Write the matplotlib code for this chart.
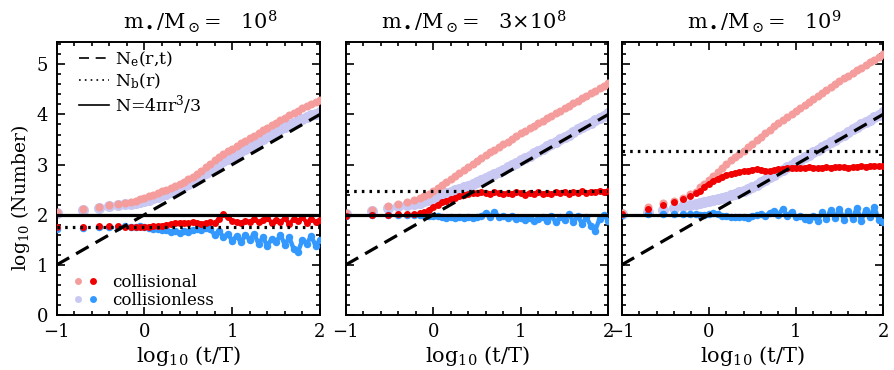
import matplotlib
matplotlib.use("Agg")
import matplotlib.pyplot as plt
from matplotlib.lines import Line2D
from matplotlib.legend_handler import HandlerTuple
from matplotlib.ticker import MultipleLocator

plt.rcParams['font.family'] = ['DejaVu Serif']
plt.rcParams['mathtext.fontset'] = 'custom'
plt.rcParams['mathtext.rm'] = 'DejaVu Serif'
plt.rcParams['mathtext.it'] = 'DejaVu Serif'
plt.rcParams['mathtext.bf'] = 'DejaVu Serif:bold'

# sample times, log10(t/T)
logt = [-1.0, -0.70, -0.52, -0.40, -0.30, -0.22, -0.15, -0.10, -0.05,
        0.00, 0.05, 0.10, 0.15, 0.20, 0.25, 0.30, 0.35, 0.40, 0.45,
        0.50, 0.55, 0.60, 0.65, 0.70, 0.75, 0.80, 0.85, 0.90, 0.95,
        1.00, 1.05, 1.10, 1.15, 1.20, 1.25, 1.30, 1.35, 1.40, 1.45,
        1.50, 1.55, 1.60, 1.65, 1.70, 1.75, 1.80, 1.85, 1.90, 1.95, 2.00]

titles = [r'm$_\bullet$/M$_\odot$=   10$^8$', r'm$_\bullet$/M$_\odot$=   3$\times$10$^8$',
          r'm$_\bullet$/M$_\odot$=   10$^9$']

# horizontal reference levels
n_sphere = 2.0
n_b = [1.75, 2.47, 3.27]
# N_e(r,t) dashed line end points
ne_x = [-1.0, 2.0]
ne_y = [1.0, 4.0]

# panel 1: m = 1e8
coll_all_1 = [2.06, 2.11, 2.16, 2.19, 2.22, 2.24, 2.26, 2.28, 2.31,
              2.34, 2.37, 2.40, 2.43, 2.47, 2.50, 2.54, 2.58, 2.62, 2.66,
              2.71, 2.76, 2.82, 2.88, 2.95, 3.02, 3.09, 3.15, 3.21, 3.27,
              3.32, 3.37, 3.43, 3.48, 3.53, 3.58, 3.63, 3.68, 3.73, 3.78,
              3.83, 3.88, 3.93, 3.98, 4.03, 4.07, 4.12, 4.16, 4.20, 4.24, 4.28]
less_all_1 = [2.04, 2.09, 2.14, 2.17, 2.19, 2.21, 2.22, 2.24, 2.26,
              2.28, 2.30, 2.33, 2.36, 2.39, 2.42, 2.45, 2.49, 2.53, 2.57,
              2.61, 2.66, 2.71, 2.77, 2.83, 2.89, 2.95, 3.01, 3.07, 3.12,
              3.17, 3.22, 3.27, 3.32, 3.37, 3.42, 3.47, 3.52, 3.57, 3.61,
              3.66, 3.70, 3.75, 3.79, 3.83, 3.87, 3.91, 3.95, 3.98, 4.01, 4.04]
coll_in_1 = [1.75, 1.76, 1.78, 1.78, 1.77, 1.76, 1.76, 1.76, 1.75,
             1.76, 1.76, 1.77, 1.77, 1.78, 1.80, 1.81, 1.83, 1.84, 1.84,
             1.83, 1.85, 1.84, 1.82, 1.83, 1.85, 1.83, 1.92, 2.01, 1.95,
             1.88, 1.86, 1.84, 1.88, 1.86, 1.91, 1.85, 1.89, 1.94, 1.84,
             1.90, 1.86, 1.93, 1.82, 1.91, 1.87, 1.95, 1.84, 1.92, 1.86, 1.90]
less_in_1 = [1.72, 1.74, 1.75, 1.76, 1.76, 1.77, 1.76, 1.76, 1.77,
             1.76, 1.74, 1.72, 1.71, 1.69, 1.70, 1.66, 1.68, 1.64, 1.67,
             1.65, 1.70, 1.72, 1.70, 1.73, 1.71, 1.60, 1.68, 1.55, 1.62,
             1.48, 1.58, 1.45, 1.60, 1.50, 1.62, 1.42, 1.55, 1.38, 1.52,
             1.45, 1.60, 1.40, 1.55, 1.32, 1.26, 1.50, 1.42, 1.58, 1.38, 1.50]

# panel 2: m = 3e8
coll_all_2 = [2.04, 2.10, 2.17, 2.21, 2.25, 2.29, 2.33, 2.37, 2.42,
              2.48, 2.54, 2.60, 2.66, 2.72, 2.78, 2.84, 2.90, 2.96, 3.02,
              3.08, 3.14, 3.19, 3.25, 3.30, 3.36, 3.41, 3.46, 3.52, 3.57,
              3.62, 3.67, 3.72, 3.77, 3.82, 3.87, 3.92, 3.97, 4.02, 4.07,
              4.12, 4.17, 4.22, 4.27, 4.32, 4.37, 4.42, 4.47, 4.52, 4.57, 4.62]
less_all_2 = [2.02, 2.08, 2.13, 2.17, 2.20, 2.22, 2.24, 2.27, 2.30,
              2.34, 2.37, 2.40, 2.43, 2.46, 2.49, 2.52, 2.55, 2.58, 2.62,
              2.65, 2.69, 2.73, 2.77, 2.81, 2.86, 2.90, 2.95, 3.00, 3.04,
              3.09, 3.14, 3.18, 3.23, 3.28, 3.32, 3.37, 3.42, 3.46, 3.51,
              3.56, 3.60, 3.65, 3.70, 3.74, 3.79, 3.83, 3.88, 3.93, 3.97, 4.02]
coll_in_2 = [1.98, 2.00, 2.00, 2.01, 2.01, 2.02, 2.04, 2.06, 2.10,
             2.15, 2.20, 2.25, 2.28, 2.31, 2.34, 2.37, 2.39, 2.41, 2.43,
             2.44, 2.45, 2.44, 2.42, 2.45, 2.43, 2.41, 2.44, 2.42, 2.46,
             2.43, 2.40, 2.44, 2.42, 2.45, 2.42, 2.44, 2.41, 2.45, 2.43,
             2.46, 2.42, 2.45, 2.44, 2.47, 2.44, 2.46, 2.45, 2.48, 2.46, 2.48]
less_in_2 = [1.98, 2.00, 1.99, 2.00, 1.99, 2.00, 1.99, 1.99, 1.98,
             1.98, 1.97, 1.96, 1.94, 1.96, 1.93, 1.95, 1.94, 1.96, 1.93,
             1.95, 1.97, 2.04, 1.96, 2.06, 1.95, 1.97, 1.93, 1.98, 1.92,
             1.94, 1.90, 1.93, 1.88, 1.92, 1.95, 1.88, 1.98, 1.85, 1.95,
             1.90, 2.02, 1.86, 1.97, 1.82, 1.95, 1.78, 1.68, 1.92, 2.00, 1.88]

# panel 3: m = 1e9
coll_all_3 = [2.04, 2.16, 2.23, 2.28, 2.34, 2.41, 2.46, 2.55, 2.62,
              2.70, 2.78, 2.86, 2.94, 3.02, 3.09, 3.16, 3.22, 3.28, 3.35,
              3.42, 3.49, 3.56, 3.63, 3.69, 3.76, 3.83, 3.89, 3.95, 4.01,
              4.07, 4.13, 4.19, 4.25, 4.31, 4.37, 4.43, 4.49, 4.55, 4.60,
              4.66, 4.72, 4.77, 4.83, 4.88, 4.93, 4.99, 5.04, 5.09, 5.15, 5.20]
less_all_3 = [2.02, 2.06, 2.10, 2.14, 2.18, 2.20, 2.22, 2.24, 2.26,
              2.28, 2.30, 2.32, 2.34, 2.36, 2.39, 2.42, 2.45, 2.48, 2.52,
              2.56, 2.60, 2.65, 2.70, 2.75, 2.80, 2.85, 2.90, 2.95, 3.00,
              3.05, 3.10, 3.15, 3.20, 3.25, 3.30, 3.35, 3.40, 3.45, 3.50,
              3.55, 3.60, 3.65, 3.70, 3.75, 3.80, 3.85, 3.89, 3.94, 3.99, 4.04]
coll_in_3 = [2.02, 2.12, 2.19, 2.25, 2.31, 2.37, 2.43, 2.48, 2.56,
             2.62, 2.67, 2.72, 2.76, 2.79, 2.81, 2.83, 2.85, 2.87, 2.88,
             2.90, 2.91, 2.90, 2.88, 2.87, 2.89, 2.91, 2.92, 2.93, 2.94,
             2.94, 2.93, 2.94, 2.95, 2.94, 2.93, 2.94, 2.95, 2.94, 2.95,
             2.96, 2.95, 2.94, 2.95, 2.96, 2.97, 2.96, 2.97, 2.98, 2.97, 2.98]
less_in_3 = [2.00, 2.02, 2.02, 2.02, 2.02, 2.02, 2.01, 2.00, 2.00,
             2.01, 2.03, 2.02, 1.98, 1.97, 1.95, 1.96, 1.95, 1.96, 1.94,
             1.97, 1.99, 2.02, 1.97, 2.04, 2.08, 2.00, 2.12, 1.98, 2.06,
             1.95, 1.98, 1.92, 1.90, 1.97, 1.88, 2.05, 1.92, 2.10, 1.94,
             2.12, 1.90, 2.08, 1.92, 2.14, 1.88, 2.10, 1.95, 2.15, 1.90, 1.85]

coll_all = [coll_all_1, coll_all_2, coll_all_3]
less_all = [less_all_1, less_all_2, less_all_3]
coll_in = [coll_in_1, coll_in_2, coll_in_3]
less_in = [less_in_1, less_in_2, less_in_3]

PINK = '#f59c9c'
LAV = '#c8c8f2'
RED = '#f00000'
BLUE = '#3399ff'

fig = plt.figure(figsize=(8.94, 3.70), dpi=100)
lefts = [0.0634, 0.3867, 0.6954]
widths = [0.2945, 0.2937, 0.2923]
k0 = 8  # from here on the samples are dense enough to join

for i in range(3):
    ax = fig.add_axes([lefts[i], 0.1486, widths[i], 0.7386])
    ax.plot(logt, less_all[i], 'o', color=LAV, ms=8.0, mec='none', zorder=2)
    ax.plot(logt, coll_all[i], 'o', color=PINK, ms=5.8, mec='none', zorder=3)
    ax.plot(logt, less_in[i], 'o', color=BLUE, ms=5.4, mec='none', zorder=4)
    ax.plot(logt[k0:], less_in[i][k0:], '-', color=BLUE, lw=3.2, zorder=4)
    ax.plot(logt, coll_in[i], 'o', color=RED, ms=5.0, mec='none', zorder=5)
    ax.plot(logt[k0:], coll_in[i][k0:], '-', color=RED, lw=3.0, zorder=5)
    ax.plot(ne_x, ne_y, color='k', lw=2.3, ls=(0, (4.5, 2.5)), zorder=6)
    ax.axhline(n_b[i], color='k', lw=2.3, ls=(0, (0.8, 1.6)), zorder=6)
    ax.axhline(n_sphere, color='k', lw=2.3, zorder=6)

    ax.set_xlim(-1, 2)
    ax.set_ylim(0, 5.45)
    ax.xaxis.set_major_locator(MultipleLocator(1))
    ax.xaxis.set_minor_locator(MultipleLocator(0.2))
    ax.yaxis.set_major_locator(MultipleLocator(1))
    ax.yaxis.set_minor_locator(MultipleLocator(0.2))
    ax.tick_params(which='both', direction='in', top=True, right=True,
                   width=1.2, labelsize=13, pad=6)
    ax.tick_params(which='major', length=6)
    ax.tick_params(which='minor', length=3)
    for s in ax.spines.values():
        s.set_linewidth(1.4)
    ax.set_xticks([-1, 0, 1, 2])
    ax.set_xticklabels(['\u22121', '0', '1', '2'])
    ax.set_xlabel(r'log$_{10}$ (t/T)', fontsize=15, labelpad=2)
    ax.text(0.84, 1.045, titles[i], transform=ax.transAxes, ha='right',
            va='baseline', fontsize=15)
    if i == 0:
        ax.set_ylabel(r'log$_{10}$ (Number)', fontsize=13.5)
        ax.yaxis.set_label_coords(-0.095, 0.43)
        h1 = [Line2D([], [], color='k', lw=1.2, ls=(0, (6, 4))),
              Line2D([], [], color='k', lw=1.2, ls=(0, (1, 2.5))),
              Line2D([], [], color='k', lw=1.2)]
        leg1 = ax.legend(h1, [r'N$_e$(r,t)', r'N$_b$(r)', r'N=4$\pi$r$^3$/3'],
                         loc='upper left', bbox_to_anchor=(0.025, 1.03),
                         frameon=False, fontsize=12.5, handlelength=1.75,
                         handletextpad=0.35, labelspacing=0.15, borderaxespad=0.5)
        ax.add_artist(leg1)
        p1 = Line2D([], [], ls='none', marker='o', color=PINK, ms=5, mec='none')
        p2 = Line2D([], [], ls='none', marker='o', color=RED, ms=5, mec='none')
        p3 = Line2D([], [], ls='none', marker='o', color=LAV, ms=5, mec='none')
        p4 = Line2D([], [], ls='none', marker='o', color=BLUE, ms=5, mec='none')
        ax.legend([(p1, p2), (p3, p4)], ['collisional', 'collisionless'],
                  handler_map={tuple: HandlerTuple(ndivide=None, pad=0.4)},
                  loc='lower left', bbox_to_anchor=(0.02, -0.02),
                  frameon=False, fontsize=12, handlelength=1.4,
                  handletextpad=0.9, labelspacing=0.05, borderaxespad=0.3)
    else:
        ax.set_yticklabels([])

fig.savefig('out.png', dpi=100)
